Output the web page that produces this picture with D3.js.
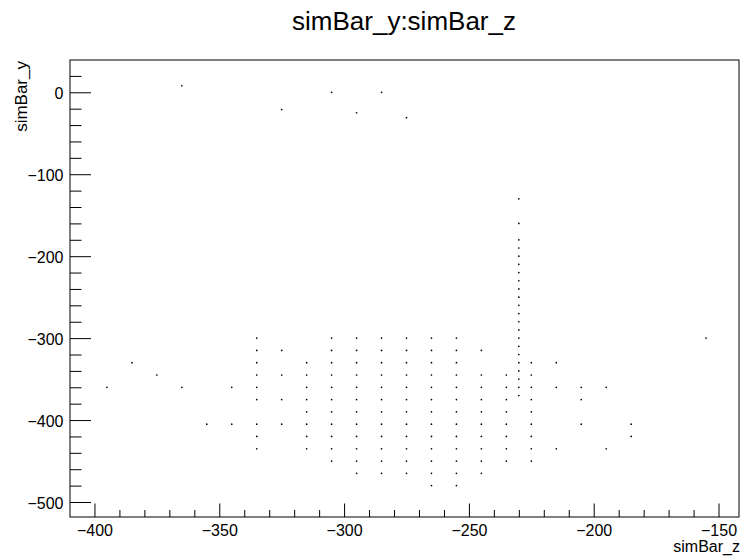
<!DOCTYPE html>
<html>
<head>
<meta charset="utf-8">
<script src="https://cdn.jsdelivr.net/npm/d3@7"></script>
<style>
  body { margin: 0; background: #fff; }
  svg text { font-family: "Liberation Sans", Arial, sans-serif; }
</style>
</head>
<body>
<div id="chart"></div>
<script>
// hits (simBar_z, simBar_y)
var columnZ = [-335, -325, -315, -305, -295, -285, -275, -265, -255, -245, -235, -230, -225, -215, -205, -195, -185, -155];
var columnY = [
    [-300, -315, -330, -345, -360, -375, -405, -420, -435],
    [-315, -345, -375, -405],
    [-330, -345, -360, -375, -390, -405, -420, -435],
    [-300, -315, -330, -345, -360, -375, -390, -405, -420, -435, -450],
    [-300, -315, -330, -345, -360, -375, -390, -405, -420, -435, -450, -465],
    [-300, -315, -330, -345, -360, -375, -390, -405, -420, -435, -450, -465],
    [-300, -315, -330, -345, -360, -375, -390, -405, -420, -435, -450, -465],
    [-300, -315, -330, -345, -360, -375, -390, -405, -420, -435, -450, -465, -480],
    [-300, -315, -330, -345, -360, -375, -390, -405, -420, -435, -450, -465, -480],
    [-315, -345, -360, -375, -390, -405, -420, -435, -450, -465],
    [-345, -360, -375, -390, -405, -420, -435, -450],
    [-130, -160, -180, -190, -200, -210, -220, -230, -240, -250, -260, -270, -280, -290, -300, -310, -320, -330, -340, -350, -360, -370],
    [-330, -345, -360, -375, -390, -405, -420, -435, -450],
    [-330, -360, -435],
    [-360, -375, -405],
    [-360, -435],
    [-405, -420],
    [-300]
];
var strayHits = [
    [-395, -360], [-385, -330], [-375, -345], [-365, -360], [-355, -405], [-345, -360], [-345, -405],
    [-365, 8], [-305, 0], [-285, 0], [-325, -21], [-295, -25], [-275, -31]
];
var xMajor = [-400, -350, -300, -250, -200, -150];
var yMajor = [0, -100, -200, -300, -400, -500];

var width = 744;
var height = 558;
var frame = { left: 70, right: 739, top: 60, bottom: 517 };

var hits = [];
columnZ.forEach(function (z, i) {
    columnY[i].forEach(function (y) { hits.push([z, y]); });
});
hits = hits.concat(strayHits);

var svg = d3.select("#chart")
    .append("svg")
    .attr("width", width)
    .attr("height", height);

var xScale = d3.scaleLinear()
    .domain([-409.8, -141.8])
    .range([frame.left, frame.right]);

var yScale = d3.scaleLinear()
    .domain([-518.3, 39.4])
    .range([frame.bottom, frame.top]);

var xMinor = d3.range(-400, -140, 10).filter(function (v) { return xMajor.indexOf(v) < 0; });
var yMinor = d3.range(20, -520, -20).filter(function (v) { return yMajor.indexOf(v) < 0; });

// minor ticks
svg.append("g")
    .attr("transform", `translate(0, ${frame.bottom})`)
    .call(d3.axisBottom(xScale).tickValues(xMinor).tickSize(-7).tickFormat(""));
svg.append("g")
    .attr("transform", `translate(${frame.left}, 0)`)
    .call(d3.axisLeft(yScale).tickValues(yMinor).tickSize(-11.5).tickFormat(""));

// major ticks + labels
var xAxis = svg.append("g")
    .attr("transform", `translate(0, ${frame.bottom})`)
    .call(d3.axisBottom(xScale).tickValues(xMajor).tickSize(-13.5).tickPadding(7.5));
var yAxis = svg.append("g")
    .attr("transform", `translate(${frame.left}, 0)`)
    .call(d3.axisLeft(yScale).tickValues(yMajor).tickSize(-21).tickPadding(6.5));

svg.selectAll(".domain").remove();
svg.selectAll(".tick line").attr("stroke", "#000").attr("stroke-width", 1);
svg.selectAll(".tick text")
    .attr("fill", "#000")
    .style("font-size", "16px")
    .style("font-family", "'Liberation Sans', Arial, sans-serif");
yAxis.selectAll(".tick text").attr("dy", "0.4em");

// frame
svg.append("rect")
    .attr("x", frame.left)
    .attr("y", frame.top)
    .attr("width", frame.right - frame.left)
    .attr("height", frame.bottom - frame.top)
    .attr("fill", "none")
    .attr("stroke", "#000")
    .attr("stroke-width", 1);

// points
svg.append("g")
    .selectAll("circle")
    .data(hits)
    .enter()
    .append("circle")
    .attr("cx", function (d) { return xScale(d[0]); })
    .attr("cy", function (d) { return yScale(d[1]); })
    .attr("r", 0.85)
    .attr("fill", "#000");

// titles
svg.append("text")
    .attr("x", 404)
    .attr("y", 30)
    .attr("text-anchor", "middle")
    .style("font-size", "26px")
    .attr("fill", "#000")
    .text("simBar_y:simBar_z");

svg.append("text")
    .attr("x", frame.right + 1)
    .attr("y", 552)
    .attr("text-anchor", "end")
    .style("font-size", "16px")
    .attr("fill", "#000")
    .text("simBar_z");

svg.append("text")
    .attr("transform", "translate(27, 61) rotate(-90)")
    .attr("text-anchor", "end")
    .style("font-size", "17px")
    .attr("fill", "#000")
    .text("simBar_y");
</script>
</body>
</html>
